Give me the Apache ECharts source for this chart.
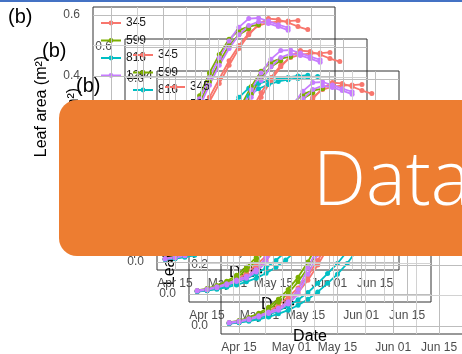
<!DOCTYPE html>
<html>
<head>
<meta charset="utf-8">
<script src="https://cdn.jsdelivr.net/npm/echarts@6/dist/echarts.min.js"></script>
<style>
html, body { margin: 0; padding: 0; background: #ffffff; }
#chart { width: 462px; height: 354px; }
</style>
</head>
<body>
<div id="chart"></div>
<script>
// Leaf area growth curves of four genotypes, panel (b), stacked five times
// and overlaid by a "Data" title banner.

const genotypes = ['345', '599', '816', '1294'];
const genotypeColors = ['#F8766D', '#7CAE00', '#00BFC4', '#C77CFF'];

// measurement dates (month-day)
const sampleDates = ['04-12', '04-15', '04-18', '04-21', '04-24', '04-27', '04-30',
  '05-03', '05-06', '05-09', '05-12', '05-15', '05-18', '05-21', '05-24', '05-27',
  '05-30', '06-02', '06-05', '06-08', '06-11', '06-14', '06-17'];

// leaf area (m2), two plants per genotype
const area345a = [0.010, 0.014, 0.020, 0.030, 0.045, 0.070, 0.095, 0.125, 0.165, 0.215, 0.270, 0.330,
  0.390, 0.450, 0.500, 0.540, 0.565, 0.575, 0.578, 0.580, 0.582, null, null];
const area345b = [0.008, 0.012, 0.018, 0.027, 0.040, 0.058, 0.082, 0.110, 0.150, 0.200, 0.255, 0.315,
  0.375, 0.435, 0.490, 0.535, 0.570, 0.588, 0.585, 0.575, 0.562, 0.552, null];
const area599a = [0.012, 0.018, 0.028, 0.042, 0.062, 0.088, 0.120, 0.160, 0.210, 0.270, 0.335, 0.410,
  0.470, 0.520, 0.550, 0.562, 0.568, null, null, null, null, null, null];
const area599b = [0.010, 0.015, 0.024, 0.036, 0.054, 0.078, 0.108, 0.145, 0.190, 0.245, 0.310, 0.380,
  0.445, 0.500, 0.535, 0.555, null, null, null, null, null, null, null];
const area816a = [0.008, 0.011, 0.016, 0.022, 0.030, 0.040, 0.052, 0.068, 0.088, 0.112, 0.140, 0.170,
  0.205, 0.250, 0.295, 0.335, 0.358, 0.372, 0.382, 0.388, 0.392, 0.396, 0.398];
const area816b = [0.009, 0.013, 0.019, 0.027, 0.037, 0.050, 0.066, 0.086, 0.110, 0.140, 0.172, 0.205,
  0.245, 0.290, 0.330, 0.360, 0.375, 0.385, 0.390, 0.395, 0.400, 0.402, null];
const area1294a = [0.012, 0.016, 0.024, 0.034, 0.046, 0.058, 0.080, 0.120, 0.190, 0.255, 0.325, 0.395,
  0.460, 0.515, 0.560, 0.588, 0.590, 0.580, 0.568, 0.558, null, null, null];
const area1294b = [0.010, 0.014, 0.021, 0.030, 0.041, 0.052, 0.072, 0.105, 0.170, 0.235, 0.300, 0.370,
  0.435, 0.490, 0.535, 0.565, 0.578, 0.572, 0.562, 0.550, null, null, null];

const plantSeries = [
  { genotype: 0, values: area345a }, { genotype: 0, values: area345b },
  { genotype: 1, values: area599a }, { genotype: 1, values: area599b },
  { genotype: 2, values: area816a }, { genotype: 2, values: area816b },
  { genotype: 3, values: area1294a }, { genotype: 3, values: area1294b }
];

// axis breaks
const tickDates = ['04-15', '05-01', '05-15', '06-01', '06-15'];
const tickLabels = ['Apr 15', 'May 01', 'May 15', 'Jun 01', 'Jun 15'];
const yTicks = [0.0, 0.2, 0.4, 0.6];
const yMinorTicks = [0.1, 0.3, 0.5];
const xRange = [-5.5, 68.3];     // days from Apr 15
const yRange = [-0.026, 0.626];

// day offset from Apr 15
function dayOf(mmdd) {
  const [m, d] = mmdd.split('-').map(Number);
  return Math.round((Date.UTC(2021, m - 1, d) - Date.UTC(2021, 3, 15)) / 86400000);
}
const sampleDays = sampleDates.map(dayOf);
const tickDays = tickDates.map(dayOf);
const minorDays = tickDays.slice(1).map((d, i) => (d + tickDays[i]) / 2);

const FONT = '"Liberation Sans", Arial, sans-serif';
const PANELS = 5;
const STEP = 32;
const base = { left: 93, top: 7, width: 242, height: 199 };

const grids = [], xAxes = [], yAxes = [], legends = [], series = [], graphics = [];

for (let k = 0; k < PANELS; k++) {
  grids.push({
    left: base.left + STEP * k, top: base.top + STEP * k,
    width: base.width, height: base.height,
    show: true, borderColor: '#333333', borderWidth: 1,
    backgroundColor: 'transparent', containLabel: false, outerBoundsMode: 'none'
  });
  xAxes.push({
    type: 'value', gridIndex: k, min: xRange[0], max: xRange[1],
    axisLine: { show: false },
    axisTick: { show: true, customValues: tickDays, length: 4, lineStyle: { color: '#333333' } },
    axisLabel: {
      customValues: tickDays, margin: 8, fontSize: 12, color: '#4d4d4d', fontFamily: FONT,
      formatter: v => tickLabels[tickDays.indexOf(Math.round(v))] || ''
    },
    splitLine: { show: false },
    name: 'Date', nameLocation: 'middle', nameGap: 27,
    nameTextStyle: { fontSize: 16, color: '#000000', fontFamily: FONT }
  });
  yAxes.push({
    type: 'value', gridIndex: k, min: yRange[0], max: yRange[1],
    axisLine: { show: false },
    axisTick: { show: true, customValues: yTicks, length: 4, lineStyle: { color: '#333333' } },
    axisLabel: {
      customValues: yTicks, margin: 13, fontSize: 12, color: '#4d4d4d', fontFamily: FONT,
      formatter: v => v.toFixed(1)
    },
    splitLine: { show: false },
    name: 'Leaf area (m²)', nameLocation: 'middle', nameGap: 43, nameRotate: 90,
    nameTextStyle: { fontSize: 16, color: '#000000', fontFamily: FONT }
  });
  legends.push({
    data: genotypes, orient: 'vertical',
    left: 100 + STEP * k, top: 17 + STEP * k,
    itemWidth: 20, itemHeight: 6, itemGap: 5.5, padding: 0,
    selectedMode: false,
    textStyle: { fontSize: 12, color: '#1a1a1a', fontFamily: FONT, lineHeight: 12 }
  });

  // panel grid lines
  const gl = [];
  tickDays.forEach(v => gl.push({ xAxis: v, lineStyle: { color: '#bdbdbd', width: 1, type: 'solid' } }));
  minorDays.forEach(v => gl.push({ xAxis: v, lineStyle: { color: '#d2d2d2', width: 1, type: 'solid' } }));
  yTicks.forEach(v => gl.push({ yAxis: v, lineStyle: { color: '#bdbdbd', width: 1, type: 'solid' } }));
  yMinorTicks.forEach(v => gl.push({ yAxis: v, lineStyle: { color: '#d2d2d2', width: 1, type: 'solid' } }));
  series.push({
    type: 'line', name: 'grid' + k, xAxisIndex: k, yAxisIndex: k, data: [], z: 1, silent: true,
    markLine: { silent: true, symbol: ['none', 'none'], label: { show: false }, animation: false, data: gl }
  });

  plantSeries.forEach(p => {
    const c = genotypeColors[p.genotype];
    series.push({
      type: 'line', name: genotypes[p.genotype], xAxisIndex: k, yAxisIndex: k,
      data: sampleDays.map((d, i) => [d, p.values[i]]).filter(pt => pt[1] !== null),
      symbol: 'circle', symbolSize: 5, showSymbol: true,
      lineStyle: { width: 1.8, color: c }, itemStyle: { color: c },
      clip: true, z: 3, emphasis: { disabled: true }
    });
  });

  graphics.push({
    type: 'text', z: 50,
    style: { text: '(b)', x: 8 + 34 * k, y: 7 + 34.5 * k, font: '20px ' + FONT, fill: '#000000' }
  });
}

// top rule and title banner
graphics.push({ type: 'rect', z: 90, shape: { x: 0, y: 0, width: 462, height: 2 }, style: { fill: '#4472C4' } });
graphics.push({ type: 'rect', z: 100, shape: { x: 59, y: 100, width: 440, height: 156, r: 18 }, style: { fill: '#ED7D31' } });
graphics.push({
  type: 'text', z: 101,
  style: { text: 'Data', x: 313, y: 184, verticalAlign: 'middle', font: '300 75px "Open Sans", sans-serif', fill: '#ffffff' }
});

const chart = echarts.init(document.getElementById('chart'), null, { renderer: 'canvas' });
chart.setOption({
  animation: false,
  backgroundColor: '#ffffff',
  grid: grids, xAxis: xAxes, yAxis: yAxes, legend: legends,
  series: series, graphic: graphics
});
</script>
</body>
</html>
